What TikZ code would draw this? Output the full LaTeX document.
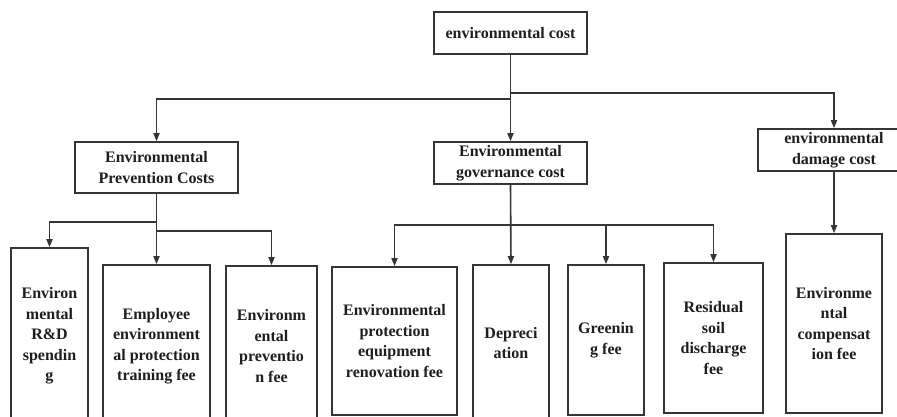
\documentclass[tikz,border=0pt]{standalone}
\usepackage{fontspec}
\setmainfont{Liberation Serif}
\usetikzlibrary{arrows.meta}
\definecolor{linegray}{HTML}{353535}
\definecolor{textgray}{HTML}{1E1E1E}
\tikzset{
  box/.style={draw=linegray, line width=1.6pt, fill=white, inner sep=0pt, align=center,
    text=textgray, font=\fontsize{16}{20.5}\selectfont\bfseries},
  conn/.style={draw=linegray, line width=1.6pt},
  arr/.style={conn, -{Triangle[length=8pt,width=6pt]}}
}
\begin{document}
\begin{tikzpicture}[x=1pt,y=-1pt]
\useasboundingbox (0,0) rectangle (897,416);
\clip (0,0) rectangle (897,416);
\fill[white] (0,0) rectangle (897,416);
% level 0
\node[box, minimum width=153pt, minimum height=42pt] (top) at (510.5,33) {environmental cost};
% level 1
\node[box, minimum width=163pt, minimum height=51pt] (prev) at (156.5,167.5) {Environmental\\Prevention Costs};
\node[box, minimum width=153pt, minimum height=42pt] (gov) at (510.5,163) {Environmental\\governance cost};
\node[box, minimum width=152pt, minimum height=42pt] (dmg) at (834,150) {environmental\\damage cost};
% level 2
\node[box, minimum width=77pt, minimum height=176pt] (rd) at (49.5,336) {Environ\\mental\\R\&D\\spendin\\g};
\node[box, minimum width=107pt, minimum height=162pt] (emp) at (156.5,346) {Employee\\environment\\al protection\\training fee};
\node[box, minimum width=91pt, minimum height=160pt] (epf) at (271.5,346) {Environm\\ental\\preventio\\n fee};
\node[box, minimum width=125pt, minimum height=148pt] (eprot) at (394.5,341) {Environmental\\protection\\equipment\\renovation fee};
\node[box, minimum width=76pt, minimum height=156pt] (depr) at (511,343) {Depreci\\ation};
\node[box, minimum width=76pt, minimum height=150pt] (green) at (606,340) {Greenin\\g fee};
\node[box, minimum width=99pt, minimum height=150pt] (resid) at (713.5,338) {Residual\\soil\\discharge\\fee};
\node[box, minimum width=96pt, minimum height=179pt] (comp) at (834,323.5) {Environme\\ntal\\compensat\\ion fee};
% junctions
\coordinate (jr) at ([yshift=-38pt]top.south);
\coordinate (jl) at ([yshift=-44pt]top.south);
\coordinate (pl) at ([yshift=-28pt]prev.south);
\coordinate (pr) at ([yshift=-37pt]prev.south);
\coordinate (gj) at ([yshift=-40pt]gov.south);
% connectors from top
\draw[arr] (top.south) -- (gov.north);
\draw[arr] (jl) -| (prev.north);
\draw[arr] (jr) -| (dmg.north);
% prevention branch
\draw[arr] (prev.south) -- (emp.north);
\draw[arr] (pl) -| (rd.north);
\draw[arr] (pr) -| (epf.north);
% governance branch
\draw[arr] (gov.south) -- (depr.north);
\draw[arr] (gj) -| (eprot.north);
\draw[arr] (gj) -| (green.north);
\draw[arr] (gj) -| (resid.north);
% damage branch
\draw[arr] (dmg.south) -- (comp.north);
\end{tikzpicture}
\end{document}
